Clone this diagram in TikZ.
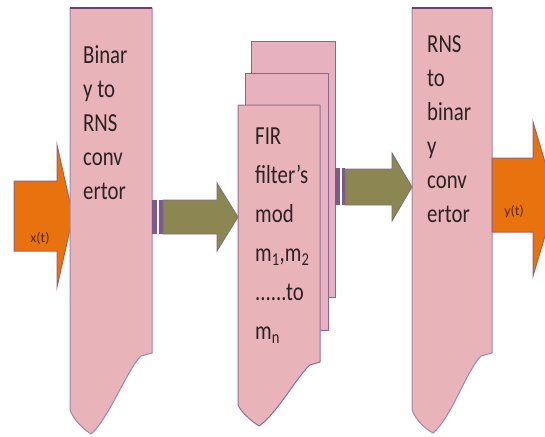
\documentclass[tikz,border=0pt]{standalone}
\usepackage{fontspec}
\setmainfont{Carlito}[FakeStretch=0.8]
\newfontfamily\lblfont{Carlito}
\definecolor{boxpink}{HTML}{E8B4B9}
\definecolor{backpink}{HTML}{E7B1BF}
\definecolor{boxedge}{HTML}{A584A5}
\definecolor{topedge}{HTML}{6E3F6E}
\definecolor{orangefill}{HTML}{E8720E}
\definecolor{orangeedge}{HTML}{9C6470}
\definecolor{olivefill}{HTML}{8C8752}
\definecolor{oliveedge}{HTML}{7D6E80}
\definecolor{stubfill}{HTML}{7B5A8C}
\definecolor{txt}{HTML}{2B2222}
\definecolor{lbl}{HTML}{5A2810}
\begin{document}
\begin{tikzpicture}[x=1pt,y=-1pt,
  blockbox/.style={fill=boxpink,draw=boxedge,line width=1pt,line join=round},
  frontbox/.style={fill=boxpink,draw=topedge!75,line width=1pt,line join=round},
  backbox/.style={fill=backpink,draw=topedge!80,line width=1pt},
  topline/.style={draw=topedge,line width=2.5pt},
  bigarrow/.style={fill=orangefill,draw=orangeedge,line width=1pt,line join=miter},
  midarrow/.style={fill=olivefill,draw=oliveedge,line width=0.8pt},
  stubbar/.style={fill=stubfill},
  boxtext/.style={anchor=north west,inner sep=0pt,align=left,font=\fontsize{26}{34}\selectfont,text=txt},
  midtext/.style={anchor=north west,inner sep=0pt,align=left,font=\fontsize{26}{39}\selectfont,text=txt},
  sigtext/.style={inner sep=0pt,font=\lblfont\fontsize{14}{16}\selectfont,text=lbl}
]
\fill[white] (0,0) rectangle (545,436);
\useasboundingbox (0,0) rectangle (545,436);

% input arrow x(t)
\draw[bigarrow] (14,181) -- (57,181) -- (57,145) -- (73,216) -- (57,287) -- (57,251) -- (14,251) -- cycle;
\node[sigtext] (xt) at (40,238) {x(t)};

% left converter
\path[blockbox] (70,8) -- (152,8) -- (152,353) -- (141,356)
  .. controls (128,368) and (108,420) .. (91,434)
  .. controls (82,428) and (74,420) .. (70,410) -- cycle;
\draw[topline] (70,8) -- (152,8);
\node[boxtext] (bin2rns) at (83,45) {Binar\\y to\\RNS\\conv\\ertor};

% FIR filter stack
\draw[backbox] (251,42) rectangle (335,297);
\draw[backbox] (245,73) rectangle (328,330);
\path[frontbox] (238,105) -- (320,105) -- (320,362) -- (310,365)
  .. controls (298,375) and (276,415) .. (259,426)
  .. controls (250,420) and (242,413) .. (238,405) -- cycle;
\node[midtext] (fir) at (255,128) {FIR\\filter's\\mod\\m\textsubscript{1},m\textsubscript{2}\\......to\\m\textsubscript{n}};

% right converter
\path[blockbox] (412,8) -- (492,8) -- (492,353) -- (481,356)
  .. controls (468,368) and (450,420) .. (433,433)
  .. controls (424,428) and (416,420) .. (412,410) -- cycle;
\draw[topline] (412,8) -- (492,8);
\node[boxtext] (rns2bin) at (427,35) {RNS\\to\\binar\\y\\conv\\ertor};

% arrow 1
\fill[stubbar] (152,200) rectangle (157,234);
\fill[stubbar] (159,200) rectangle (163,234);
\draw[midarrow] (163,200) -- (217,200) -- (217,183) -- (238,217) -- (217,251) -- (217,234) -- (163,234) -- cycle;

% arrow 2
\fill[stubbar] (335,168) rectangle (340,205);
\fill[stubbar] (342,168) rectangle (345,205);
\draw[midarrow] (345,169) -- (392,169) -- (392,153) -- (412,187) -- (392,221) -- (392,205) -- (345,205) -- cycle;

% output arrow y(t)
\draw[bigarrow] (492,158) -- (533,158) -- (533,122) -- (556,199) -- (533,276) -- (533,232) -- (492,232) -- cycle;
\node[sigtext] (yt) at (514,212) {y(t)};
\end{tikzpicture}
\end{document}
